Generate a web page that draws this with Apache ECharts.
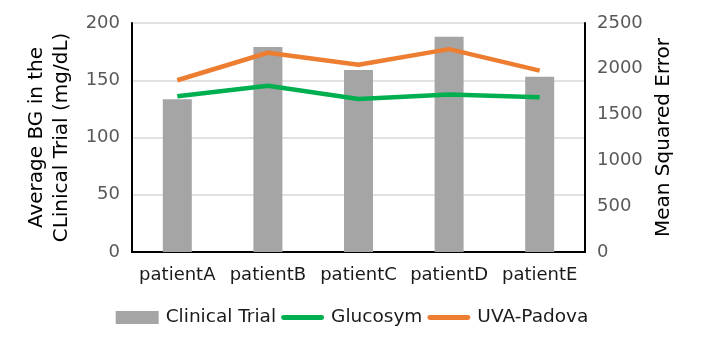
<!DOCTYPE html>
<html>
<head>
<meta charset="utf-8">
<script src="https://cdn.jsdelivr.net/npm/echarts@6/dist/echarts.min.js"></script>
<style>
  html, body { margin: 0; padding: 0; background: #fff; }
  #chart { width: 704px; height: 349px; }
</style>
</head>
<body>
<div id="chart"></div>
<script>
// categories + series values
const patients = ['patientA', 'patientB', 'patientC', 'patientD', 'patientE'];
const clinicalTrial = [133.5, 179, 159, 188, 153];
const glucosym = [1700, 1815, 1670, 1720, 1690];
const uvaPadova = [1875, 2175, 2045, 2215, 1980];

const FONT = 'DejaVu Sans';
const LINE_ICON = 'path://M2,0 L41,0 A2,2 0 0 1 41,5 L2,5 A2,2 0 0 1 2,0 Z';

const chart = echarts.init(document.getElementById('chart'));

const option = {
  animation: false,
  textStyle: { fontFamily: FONT },
  grid: { left: 132, right: 119, top: 23, bottom: 97 },
  legend: {
    bottom: 17,
    left: 'center',
    itemGap: 5,
    itemWidth: 43,
    itemHeight: 13,
    textStyle: { fontFamily: FONT, fontSize: 18.5, color: '#1a1a1a', padding: [0, 0, 0, 2] },
    data: [
      { name: 'Clinical Trial', icon: 'rect' },
      { name: 'Glucosym', icon: LINE_ICON },
      { name: 'UVA-Padova', icon: LINE_ICON }
    ]
  },
  xAxis: [
    {
      type: 'category',
      data: patients,
      axisLine: { lineStyle: { color: '#000', width: 2 } },
      axisTick: { show: false },
      axisLabel: { fontFamily: FONT, fontSize: 18, color: '#1a1a1a', margin: 14, interval: 0 }
    },
    {
      // only draws the top edge of the box
      type: 'category',
      position: 'top',
      data: patients,
      axisLine: { lineStyle: { color: '#000', width: 2 } },
      axisTick: { show: false },
      axisLabel: { show: false }
    }
  ],
  yAxis: [
    {
      type: 'value',
      min: 0,
      max: 200,
      interval: 50,
      name: 'Average BG in the\nCLinical Trial (mg/dL)',
      nameLocation: 'middle',
      nameGap: 58,
      nameTextStyle: { fontFamily: FONT, fontSize: 20, color: '#000', lineHeight: 25 },
      axisLine: { show: true, lineStyle: { color: '#000', width: 2 } },
      axisTick: { show: false },
      axisLabel: { fontFamily: FONT, fontSize: 18, color: '#595959', margin: 12 },
      splitLine: { lineStyle: { color: '#d9d9d9', width: 1.5 } }
    },
    {
      type: 'value',
      min: 0,
      max: 2500,
      interval: 500,
      name: 'Mean Squared Error',
      nameLocation: 'middle',
      nameGap: 69,
      nameTextStyle: { fontFamily: FONT, fontSize: 20, color: '#000' },
      axisLine: { show: true, lineStyle: { color: '#000', width: 2 } },
      axisTick: { show: false },
      axisLabel: {
        fontFamily: FONT, fontSize: 18, color: '#595959', margin: 12,
        formatter: v => String(v)
      },
      splitLine: { show: false }
    }
  ],
  series: [
    {
      name: 'Clinical Trial',
      type: 'bar',
      yAxisIndex: 0,
      barWidth: '32%',
      itemStyle: { color: '#a5a5a5' },
      data: clinicalTrial
    },
    {
      name: 'Glucosym',
      type: 'line',
      yAxisIndex: 1,
      symbol: 'none',
      lineStyle: { color: '#00b050', width: 4.5 },
      itemStyle: { color: '#00b050' },
      data: glucosym
    },
    {
      name: 'UVA-Padova',
      type: 'line',
      yAxisIndex: 1,
      symbol: 'none',
      lineStyle: { color: '#ed7d31', width: 4.5 },
      itemStyle: { color: '#ed7d31' },
      data: uvaPadova
    }
  ]
};

chart.setOption(option);
</script>
</body>
</html>
